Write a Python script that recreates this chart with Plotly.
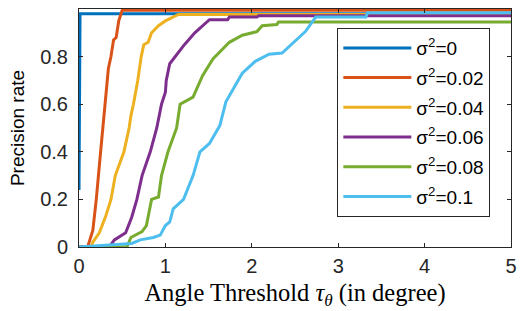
import plotly.graph_objects as go

# --- data ---
series_names = ["σ<sup>2</sup>=0", "σ<sup>2</sup>=0.02", "σ<sup>2</sup>=0.04",
                "σ<sup>2</sup>=0.06", "σ<sup>2</sup>=0.08", "σ<sup>2</sup>=0.1"]
colors = ["#0072BD", "#D95319", "#EDB120", "#7E2F8E", "#77AC30", "#4DBEEE"]

x_s0 = [0.0, 0.0, 0.012, 5.0]
y_s0 = [0.24, 0.24, 0.98, 0.98]

x_s002 = [0.0, 0.10, 0.16, 0.20, 0.25, 0.30, 0.34, 0.37, 0.40, 0.43, 0.46, 0.50, 5.0]
y_s002 = [0.0, 0.0, 0.07, 0.20, 0.40, 0.60, 0.75, 0.80, 0.87, 0.88, 0.95, 0.995, 0.995]

x_s004 = [0.0, 0.14, 0.16, 0.235, 0.31, 0.37, 0.42, 0.52, 0.58, 0.60, 0.63, 0.68, 0.72,
          0.75, 0.80, 0.84, 0.92, 1.00, 1.15, 5.0]
y_s004 = [0.0, 0.0, 0.02, 0.06, 0.13, 0.20, 0.30, 0.40, 0.50, 0.55, 0.60, 0.70, 0.80,
          0.85, 0.86, 0.90, 0.93, 0.95, 0.977, 0.977]

x_s006 = [0.0, 0.35, 0.41, 0.54, 0.61, 0.67, 0.73, 0.825, 0.90, 0.955, 1.00, 1.01, 1.05,
          1.11, 1.22, 1.34, 1.43, 1.51, 1.72, 1.74, 2.06, 2.08, 5.0]
y_s006 = [0.0, 0.0, 0.03, 0.06, 0.125, 0.20, 0.30, 0.40, 0.50, 0.60, 0.65, 0.70, 0.77,
          0.80, 0.85, 0.90, 0.93, 0.955, 0.955, 0.966, 0.966, 0.972, 0.972]

x_s008 = [0.0, 0.555, 0.60, 0.73, 0.78, 0.84, 0.92, 0.955, 1.03, 1.13, 1.17, 1.28, 1.32,
          1.43, 1.55, 1.74, 1.89, 2.06, 2.12, 2.29, 2.31, 5.0]
y_s008 = [0.0, 0.0, 0.04, 0.065, 0.09, 0.20, 0.21, 0.30, 0.40, 0.50, 0.60, 0.62, 0.63,
          0.72, 0.79, 0.86, 0.89, 0.905, 0.93, 0.935, 0.945, 0.945]

x_s01 = [0.0, 0.61, 0.71, 0.86, 0.94, 1.00, 1.05, 1.09, 1.21, 1.32, 1.40, 1.51, 1.63,
         1.70, 1.81, 1.89, 2.04, 2.20, 2.35, 2.47, 2.62, 2.74, 3.32, 3.34, 5.0]
y_s01 = [0.0, 0.015, 0.03, 0.04, 0.05, 0.09, 0.105, 0.16, 0.20, 0.30, 0.40, 0.435, 0.51,
         0.61, 0.68, 0.73, 0.78, 0.81, 0.815, 0.855, 0.905, 0.966, 0.966, 0.984, 0.984]

x_ticks = [0, 1, 2, 3, 4, 5]
y_ticks = [0, 0.2, 0.4, 0.6, 0.8, 1]
y_tick_text = ["0", "0.2", "0.4", "0.6", "0.8", "1"]

xs = [x_s0, x_s002, x_s004, x_s006, x_s008, x_s01]
ys = [y_s0, y_s002, y_s004, y_s006, y_s008, y_s01]

fig = go.Figure()
for i, (xv, yv) in enumerate(zip(xs, ys)):
    fig.add_trace(go.Scatter(
        x=xv, y=yv, mode="lines", name=series_names[i],
        line=dict(color=colors[i], width=3), legendgroup=f"g{i}",
        cliponaxis=False,
    ))

axis_color = "#262626"
fig.update_layout(
    width=523, height=311,
    margin=dict(l=79, r=6, t=9, b=64),
    paper_bgcolor="white", plot_bgcolor="white",
    font=dict(family="Liberation Sans, Arial, sans-serif", size=20, color=axis_color),
    showlegend=True,
    legend=dict(
        x=0.598, y=0.92, xanchor="left", yanchor="top",
        bgcolor="white", bordercolor=axis_color, borderwidth=1,
        font=dict(size=19, color="#000000"),
        tracegroupgap=2, itemwidth=68, entrywidth=150,
    ),
    xaxis=dict(
        range=[0, 5], tickvals=x_ticks, ticks="inside", ticklen=4,
        showline=True, linecolor=axis_color, linewidth=1, mirror="ticks",
        showgrid=False, zeroline=False, tickcolor=axis_color,
        ticklabelstandoff=1,
        title=dict(text="Angle Threshold <i>τ</i><sub><i>θ</i></sub> (in degree)",
                   font=dict(family="Liberation Serif, serif", size=24.5, color="#000000"),
                   standoff=7),
    ),
    yaxis=dict(
        range=[0, 1], tickvals=y_ticks, ticktext=y_tick_text, ticks="inside", ticklen=4,
        showline=True, linecolor=axis_color, linewidth=1, mirror="ticks",
        showgrid=False, zeroline=False, tickcolor=axis_color,
        ticklabelstandoff=6,
        title=dict(text="Precision rate", font=dict(size=19, color="#000000"), standoff=10),
    ),
)
fig.write_html("out.html")
